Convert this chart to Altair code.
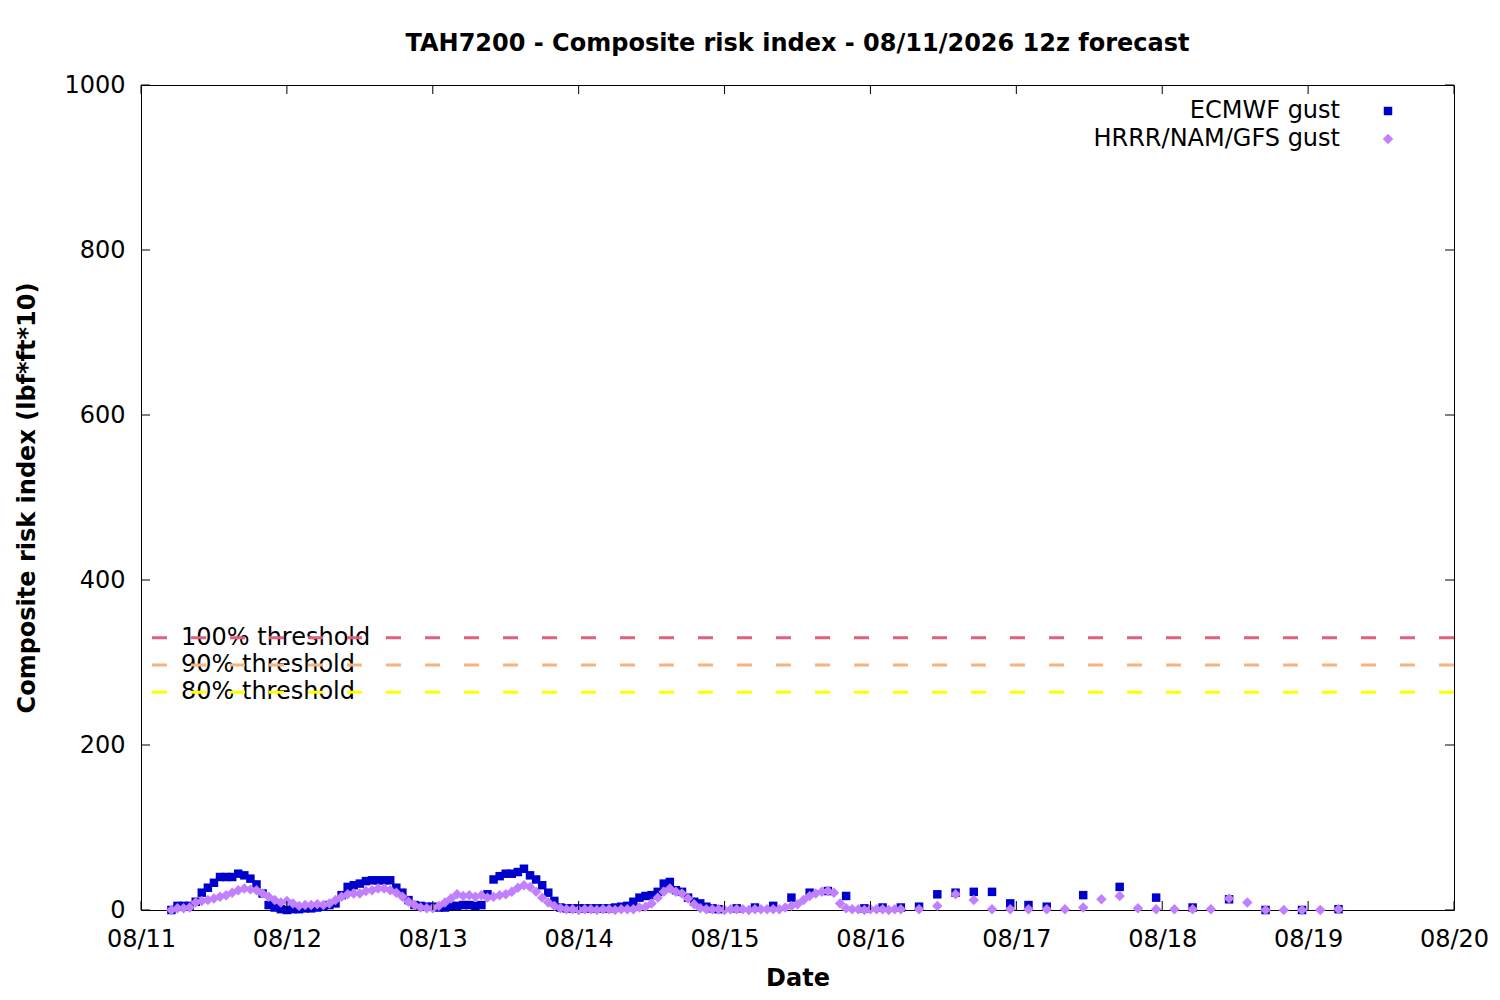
import altair as alt
import pandas as pd

# ---------------- data ----------------
title_text = "TAH7200 - Composite risk index - 08/11/2026 12z forecast"
x_title = "Date"
y_title = "Composite risk index (lbf*ft*10)"

x_tick_labels = ["08/11", "08/12", "08/13", "08/14", "08/15",
                 "08/16", "08/17", "08/18", "08/19", "08/20"]
y_tick_values = [0, 200, 400, 600, 800, 1000]

series_names = ["ECMWF gust", "HRRR/NAM/GFS gust"]
series_colors = ["#0000cc", "#c080ff"]
series_shapes = ["square", "diamond"]

# forecast valid times, hours after 08/11 00:00 local
ecmwf_hours = list(range(5, 96)) + list(range(98, 150, 3)) + list(range(155, 198, 6))
ecmwf_values = [
    0, 5, 5, 5, 10, 21, 27, 33, 40, 40,
    40, 44, 42, 38, 31, 20, 6, 3, 1, 0,
    1, 1, 2, 2, 3, 4, 6, 8, 18, 28,
    30, 32, 35, 36, 36, 36, 36, 27, 21, 12,
    6, 5, 4, 4, 3, 3, 5, 5, 6, 6,
    5, 6, 19, 37, 41, 44, 44, 46, 50, 42,
    37, 30, 21, 11, 3, 2, 2, 2, 2, 2,
    2, 2, 2, 3, 4, 5, 10, 15, 17, 18,
    22, 32, 34, 24, 22, 15, 10, 8, 4, 2,
    1,
    2, 3, 5, 15, 21, 23, 17, 2, 3, 3, 4, 19, 21, 22, 22, 8, 6, 4,
    18, 28, 15, 3, 13, 0, 0, 1,
]

hrrr_hours = list(range(5, 126)) + list(range(128, 198, 3))
hrrr_values = [
    0, 2, 2, 3, 9, 11, 12, 14, 16, 18,
    21, 24, 26, 25, 24, 20, 16, 12, 9, 11,
    8, 5, 6, 6, 7, 6, 8, 12, 16, 19,
    20, 20, 23, 24, 26, 26, 24, 21, 16, 10,
    6, 3, 2, 2, 5, 9, 14, 19, 17, 18,
    16, 18, 15, 16, 18, 19, 22, 27, 30, 28,
    22, 15, 9, 5, 2, 1, 1, 0, 1, 1,
    0, 1, 1, 0, 1, 1, 1, 3, 4, 8,
    15, 22, 26, 22, 20, 14, 7, 2, 1, 1,
    1, 0, 1, 1, 1, 0, 1, 1, 1, 1,
    1, 3, 5, 7, 12, 17, 20, 22, 23, 21,
    8, 2, 1, 1, 0, 1, 1, 1, 0, 1,
    1,
    1, 5, 19, 12, 1, 1, 1, 1, 1, 3, 13, 17, 2, 1, 1, 1, 1, 14, 9, 0, 0, 0, 0, 1,
]

thresh_labels = ["100% threshold", "90% threshold", "80% threshold"]
thresh_values = [330, 297, 264]
thresh_colors = ["#e0607e", "#f7b27e", "#ffff00"]

# ---------------- tables ----------------
points_df = pd.concat([
    pd.DataFrame({"hour": ecmwf_hours, "value": ecmwf_values, "series": series_names[0]}),
    pd.DataFrame({"hour": hrrr_hours, "value": hrrr_values, "series": series_names[1]}),
], ignore_index=True)
points_df["order"] = range(len(points_df))

thresh_df = pd.DataFrame({"label": thresh_labels, "value": thresh_values, "tcolor": thresh_colors})
xt_df = pd.DataFrame({"hour": [24 * i for i in range(len(x_tick_labels))]})
yt_df = pd.DataFrame({"value": y_tick_values})

FONT = "DejaVu Sans"
FS = 24
W, H = 1313, 825
label_array = "[" + ",".join('"%s"' % s for s in x_tick_labels) + "]"


def x_enc():
    return alt.X(
        "hour:Q",
        scale=alt.Scale(domain=[0, 24 * (len(x_tick_labels) - 1)], nice=False, zero=False),
        axis=alt.Axis(values=[24 * i for i in range(len(x_tick_labels))],
                      labelExpr=label_array + "[round(datum.value/24)]",
                      ticks=False, grid=False, domain=False,
                      labelPadding=17, labelFont=FONT, labelFontSize=FS, labelColor="black",
                      titleFont=FONT, titleFontSize=FS, titleFontWeight="bold", titleColor="black",
                      titleY=68, titleBaseline="middle", labelFlush=False),
        title=x_title,
    )


def y_enc():
    return alt.Y(
        "value:Q",
        scale=alt.Scale(domain=[0, 1000], nice=False),
        axis=alt.Axis(values=y_tick_values, format="d", ticks=False, grid=False, domain=False,
                      labelPadding=16, labelFont=FONT, labelFontSize=FS, labelColor="black",
                      titleFont=FONT, titleFontSize=FS, titleFontWeight="bold", titleColor="black",
                      titleX=-114, titleBaseline="middle"),
        title=y_title,
    )


thresh_text = alt.Chart(thresh_df).mark_text(
    align="left", baseline="middle", font=FONT, fontSize=FS, color="black"
).encode(x=alt.value(40), y=y_enc(), text="label:N")

thresh_lines = alt.Chart(thresh_df).mark_rule(strokeDash=[15, 24], strokeWidth=3).encode(
    y=y_enc(), stroke=alt.Stroke("tcolor:N", scale=None, legend=None)
)

legend = alt.Legend(
    title=None, orient="none", legendX=1235, legendY=14, padding=0,
    labelAlign="right", labelOffset={"expr": "-60"}, labelFont=FONT, labelFontSize=FS,
    labelColor="black", labelLimit=500, rowPadding=4, symbolStrokeWidth=0,
    symbolOpacity=1,
)

points = alt.Chart(points_df).mark_point(filled=True, opacity=1, strokeWidth=0).encode(
    x=x_enc(),
    y=y_enc(),
    color=alt.Color("series:N", scale=alt.Scale(domain=series_names, range=series_colors), legend=legend),
    shape=alt.Shape("series:N", scale=alt.Scale(domain=series_names, range=series_shapes), legend=legend),
    size=alt.Size("series:N", scale=alt.Scale(domain=series_names, range=[72, 110]), legend=legend),
    order=alt.Order("order:Q"),
)

xt_bottom = alt.Chart(xt_df).mark_rule(color="black", strokeWidth=1).encode(
    x=x_enc(), y=alt.value(H), y2=alt.value(H - 9))
xt_top = alt.Chart(xt_df).mark_rule(color="black", strokeWidth=1).encode(
    x=x_enc(), y=alt.value(0), y2=alt.value(9))
yt_left = alt.Chart(yt_df).mark_rule(color="black", strokeWidth=1).encode(
    y=y_enc(), x=alt.value(0), x2=alt.value(9))
yt_right = alt.Chart(yt_df).mark_rule(color="black", strokeWidth=1).encode(
    y=y_enc(), x=alt.value(W), x2=alt.value(W - 9))

chart = alt.layer(
    thresh_text, thresh_lines, points, xt_bottom, xt_top, yt_left, yt_right
).properties(
    width=W, height=H,
    title=alt.TitleParams(title_text, font=FONT, fontSize=FS, fontWeight="bold",
                          color="black", offset=17, anchor="middle"),
    autosize=alt.AutoSizeParams(type="none"),
    padding={"left": 133, "top": 77, "right": 34, "bottom": 80},
    background="white",
).configure_view(stroke="black", strokeWidth=1)

chart.save("out.html", embed_options={"renderer": "svg", "actions": False})
